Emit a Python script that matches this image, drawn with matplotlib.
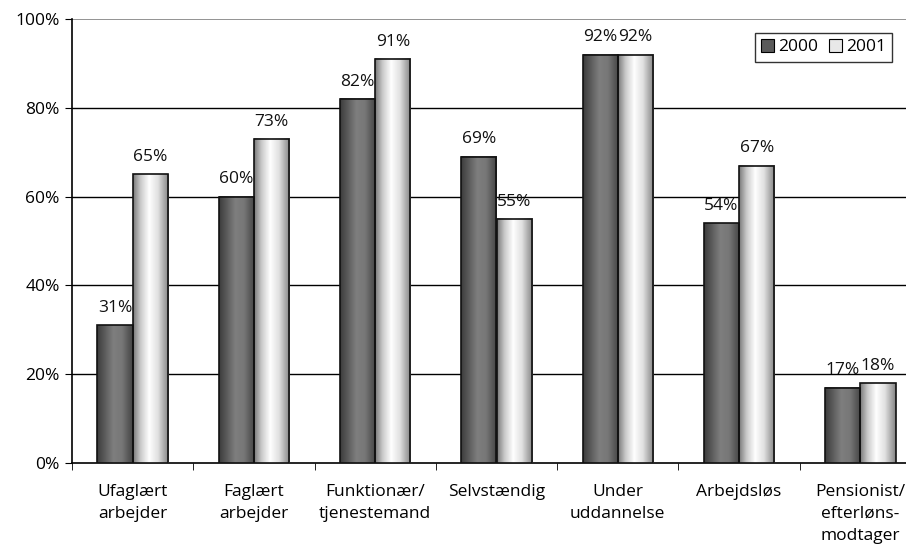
import numpy as np
import matplotlib
matplotlib.use("Agg")
import matplotlib.pyplot as plt
from matplotlib.patches import Rectangle
from matplotlib.colors import LinearSegmentedColormap

plt.rcParams['font.family'] = ['Open Sans', 'DejaVu Sans']
plt.rcParams['font.size'] = 12.5

categories = ["Ufaglært\narbejder", "Faglært\narbejder", "Funktionær/\ntjenestemand",
              "Selvstændig", "Under\nuddannelse", "Arbejdsløs",
              "Pensionist/\nefterløns-\nmodtager"]
vals_2000 = [31, 60, 82, 69, 92, 54, 17]
vals_2001 = [65, 73, 91, 55, 92, 67, 18]
series_names = ["2000", "2001"]
yticks = [0, 20, 40, 60, 80, 100]

# cylinder-like horizontal shading, as in the original
dark_cmap = LinearSegmentedColormap.from_list(
    "dark", [(0, "#3c3c3c"), (0.45, "#7e7e7e"), (0.7, "#777777"), (1, "#444444")])
light_cmap = LinearSegmentedColormap.from_list(
    "light", [(0, "#7a7a7a"), (0.2, "#c8c8c8"), (0.45, "#ffffff"), (0.7, "#e0e0e0"), (1, "#858585")])

fig = plt.figure(figsize=(9.06, 5.48), dpi=100)
ax = fig.add_axes([72 / 906, 1 - 463 / 548, 849 / 906, 444 / 548])

x = np.arange(len(categories))
w = 0.29
grad = np.linspace(0, 1, 64).reshape(1, -1)

for vals, off, cmap in [(vals_2000, -w / 2, dark_cmap), (vals_2001, w / 2, light_cmap)]:
    for xi, v in zip(x, vals):
        left = xi + off - w / 2
        ax.imshow(grad, cmap=cmap, extent=[left, left + w, 0, v], aspect="auto",
                  interpolation="bilinear", zorder=3)
        ax.add_patch(Rectangle((left, 0), w, v, fill=False, edgecolor="#111111", lw=1.2, zorder=4))
        ax.annotate(f"{v}%", (xi + off, v), xytext=(0, 9.5), textcoords="offset points",
                    ha="center", va="baseline", color="#111111", zorder=5)

ax.set_xlim(-0.5, len(categories) - 0.5)
ax.set_ylim(0, 100)
ax.set_yticks(yticks)
ax.set_yticklabels([f"{t}%" for t in yticks])
for t in yticks[1:-1]:
    ax.axhline(t, color="black", lw=1.0, zorder=1)
ax.axhline(100, color="#808080", lw=1.2, zorder=1)

ax.set_xticks(x)
ax.set_xticklabels(categories, linespacing=1.5, va="top")
ax.tick_params(axis="x", length=0, pad=15)
ax.set_xticks(np.arange(len(categories) + 1) - 0.5, minor=True)
ax.tick_params(axis="x", which="minor", length=5, direction="out", color="black")
ax.tick_params(axis="y", length=5, direction="out", pad=4, colors="black")

for s in ["top", "right"]:
    ax.spines[s].set_visible(False)
ax.spines["left"].set_linewidth(1.2)
ax.spines["bottom"].set_linewidth(1.2)

handles = [Rectangle((0, 0), 1, 1, facecolor="#5a5a5a", edgecolor="black", lw=0.8),
           Rectangle((0, 0), 1, 1, facecolor="#e8e8e8", edgecolor="black", lw=0.8)]
leg = fig.legend(handles, series_names, loc="upper left", bbox_to_anchor=(755 / 906, 1 - 33 / 548),
                 ncol=2, frameon=True, fancybox=False, shadow=False, handlelength=0.75,
                 handleheight=0.75, handletextpad=0.25, columnspacing=0.6, borderpad=0.35,
                 borderaxespad=0)
leg.get_frame().set_edgecolor("black")
leg.get_frame().set_linewidth(1.0)

fig.savefig("out.png", dpi=100)
